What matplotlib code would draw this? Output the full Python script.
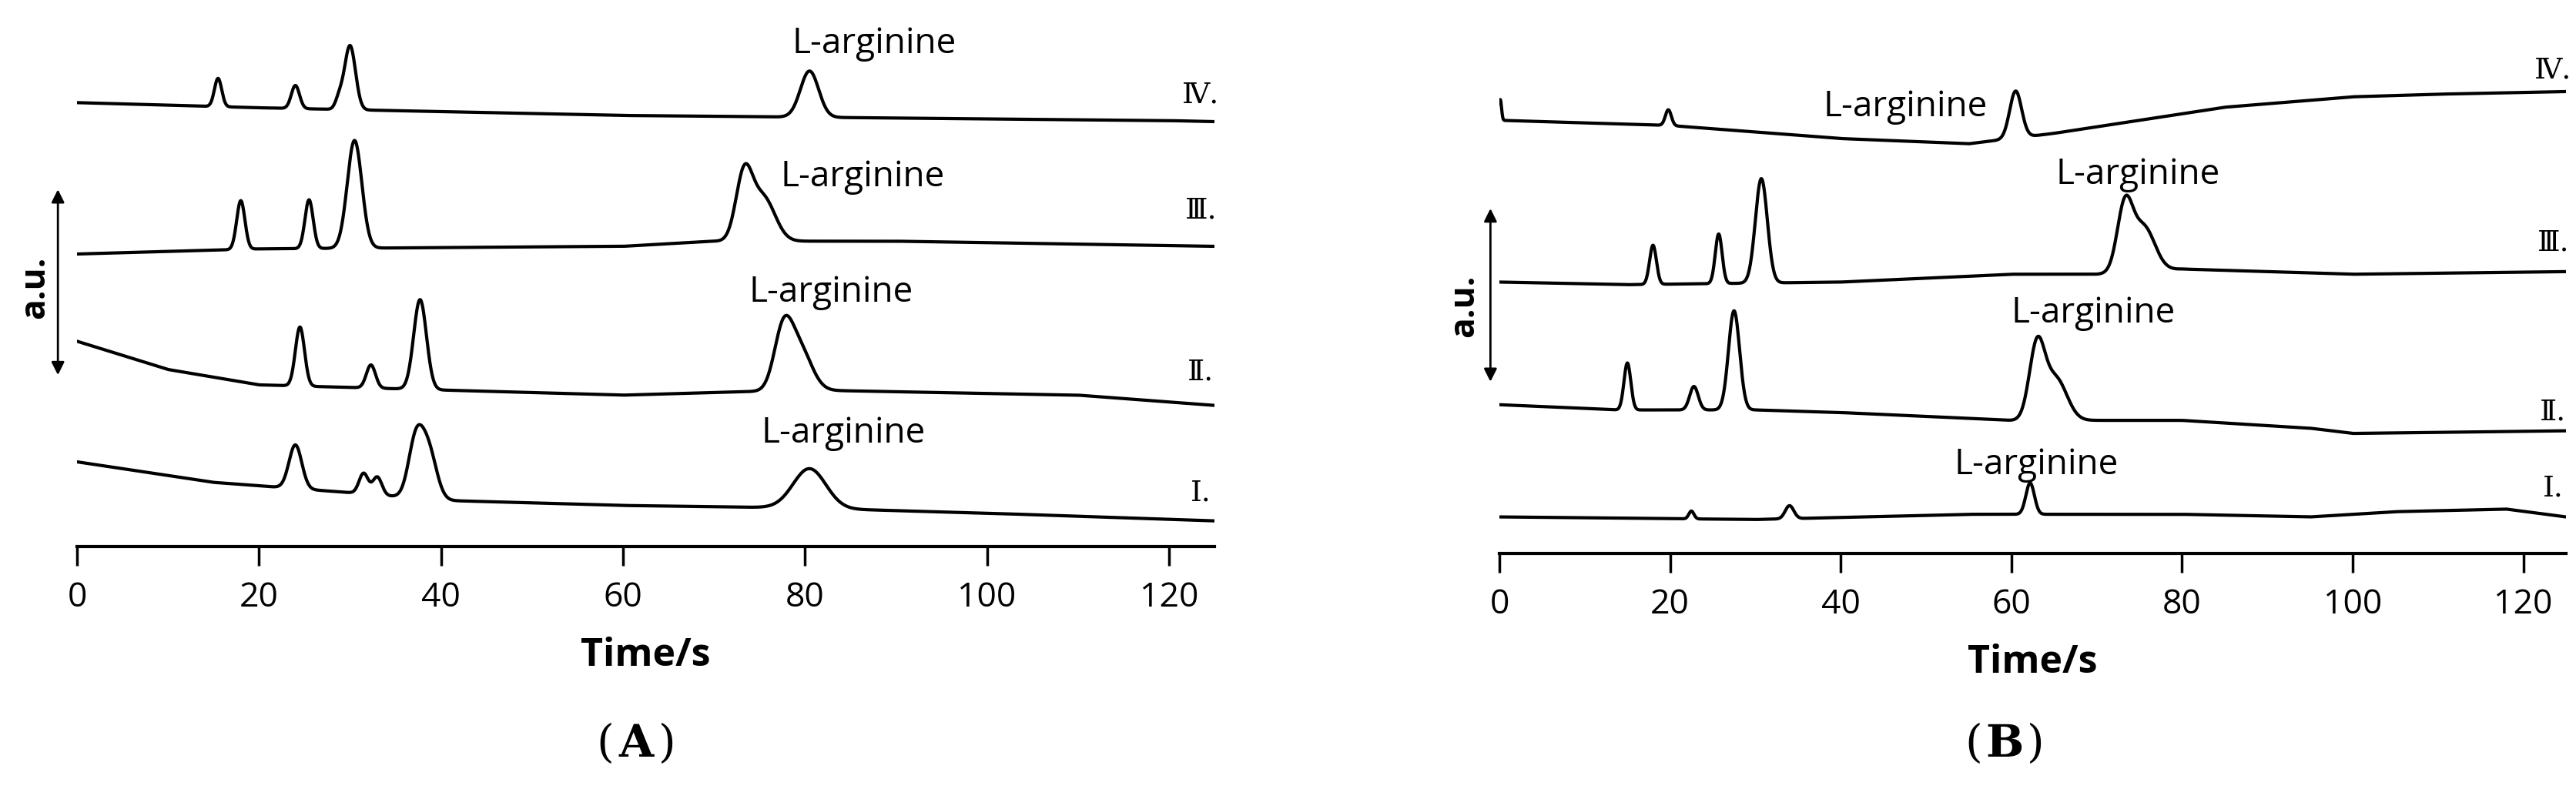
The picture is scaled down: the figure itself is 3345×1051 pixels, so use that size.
import numpy as np
import matplotlib
matplotlib.use("Agg")
import matplotlib.pyplot as plt

# ---------------- data (y in picture units, larger = lower) ----------------
labels_roman = ["Ⅰ.", "Ⅱ.", "Ⅲ.", "Ⅳ."]
xticks = [0, 20, 40, 60, 80, 100, 120]

# Panel A baselines (time, level)
A_base_t = [[0, 15, 30, 40, 60, 80, 100, 125],
            [0, 10, 20, 40, 60, 80, 110, 125],
            [0, 20, 60, 70, 90, 125],
            [0, 20, 60, 120, 125]]
A_base_y = [[900, 940, 960, 975, 985, 990, 1000, 1015],
            [665, 720, 750, 760, 770, 760, 770, 790],
            [495, 485, 480, 470, 470, 480],
            [200, 210, 225, 235, 237]]
# peaks: centre, height, width
A_pk_c = [[24, 31.5, 33.0, 37.2, 38.6, 80.5],
          [24.5, 32.3, 37.7, 77.6, 79.4],
          [18, 25.5, 30.5, 73.3, 75.4],
          [15.5, 24, 28.8, 30, 80.5]]
A_pk_h = [[85, 40, 35, 105, 95, 77],
          [115, 45, 175, 110, 80],
          [95, 95, 210, 125, 85],
          [55, 45, 20, 125, 90]]
A_pk_w = [[0.7, 0.5, 0.5, 0.8, 0.9, 1.8],
          [0.5, 0.5, 0.7, 1.0, 1.3],
          [0.45, 0.45, 0.8, 0.9, 1.3],
          [0.4, 0.45, 0.4, 0.6, 1.0]]
A_arg_x = [84.2, 82.9, 86.3, 87.6]
A_arg_y = [845, 570, 345, 85]
A_rom_y = [960, 725, 410, 185]

# Panel B
B_base_t = [[0, 30, 55, 80, 95, 105, 118, 125],
            [0, 14, 30, 40, 60, 80, 95, 100, 125],
            [0, 15, 40, 60, 70, 80, 100, 125],
            [0, 20, 40, 55, 65, 75, 85, 100, 110, 125]]
B_base_y = [[990, 995, 985, 985, 990, 980, 975, 990],
            [775, 785, 785, 790, 805, 805, 820, 830, 825],
            [540, 545, 540, 525, 525, 515, 525, 520],
            [230, 240, 265, 275, 255, 230, 205, 185, 180, 175]]
B_pk_c = [[22.5, 34, 62.2],
          [15, 22.8, 27.5, 63.0, 65.2],
          [18, 25.7, 30.7, 73.3, 75.5],
          [0.1, 19.8, 60.5]]
B_pk_h = [[15, 25, 60],
          [90, 45, 190, 140, 80],
          [75, 95, 200, 125, 85],
          [40, 30, 90]]
B_pk_w = [[0.3, 0.5, 0.5],
          [0.4, 0.5, 0.65, 0.9, 1.3],
          [0.4, 0.4, 0.7, 0.9, 1.3],
          [0.15, 0.35, 0.7]]
B_arg_x = [62.9, 69.6, 74.8, 47.6]
B_arg_y = [890, 600, 335, 205]
B_rom_y = [935, 790, 465, 135]

W, H = 3345, 1051
fig = plt.figure(figsize=(W / 100, H / 100), dpi=100)

def make_ax(x0, x1, ybot, ytop):
    return fig.add_axes([x0 / W, 1 - ybot / H, (x1 - x0) / W, (ybot - ytop) / H])

t = np.linspace(0, 125, 3000)

def draw(ax, bt, by, pc, ph, pw, ax_y, argx, argy, romy, arrow_x, au_x, arrow_y, au_y, top):
    ax.set_xlim(0, 125)
    ax.set_ylim(ax_y, top)
    for i in range(4):
        y = np.interp(t, bt[i], by[i])
        for c, h, w in zip(pc[i], ph[i], pw[i]):
            y = y - h * np.exp(-0.5 * ((t - c) / w) ** 2)
        ax.plot(t, y, color="black", lw=3)
        ax.text(argx[i], argy[i], "L-arginine", fontsize=33, family="Open Sans",
                ha="center", va="center")
        ax.text(123.5, romy[i], labels_roman[i], fontsize=27, family="DejaVu Serif",
                ha="center", va="center")
    for s in ["left", "right", "top"]:
        ax.spines[s].set_visible(False)
    ax.spines["bottom"].set_position(("data", ax_y))
    ax.spines["bottom"].set_linewidth(3)
    ax.set_yticks([])
    ax.set_xticks(xticks)
    ax.tick_params(axis="x", length=18, width=2.5, labelsize=32, pad=14)
    for lab in ax.get_xticklabels():
        lab.set_family("Open Sans")
    ax.annotate("", xy=(arrow_x, arrow_y[0]), xytext=(arrow_x, arrow_y[1]),
                arrowprops=dict(arrowstyle="<|-|>", color="black", lw=2, mutation_scale=25),
                annotation_clip=False)
    ax.text(au_x, au_y, "a.u.", rotation=90, fontsize=32, fontweight="bold",
            family="Open Sans", ha="center", va="center", clip_on=False)
    ax.set_xlabel("Time/s", fontsize=36, fontweight="bold", family="Open Sans", labelpad=20)

axA = make_ax(100, 1577, 710, 40)
draw(axA, A_base_t, A_base_y, A_pk_c, A_pk_h, A_pk_w, 1065, A_arg_x, A_arg_y, A_rom_y,
     -2.1, -4.6, (365, 735), 560, 60)

axB = make_ax(1947, 3332, 719, 41)
draw(axB, B_base_t, B_base_y, B_pk_c, B_pk_h, B_pk_w, 1060, B_arg_x, B_arg_y, B_rom_y,
     -1.05, -4.1, (395, 735), 585, 60)

for cx, p in [(826, "A"), (2603, "B")]:
    yy = 1 - 967 / H
    fig.text(cx / W - 0.0085, yy, "(", fontsize=42, family="DejaVu Serif", ha="right", va="center")
    fig.text(cx / W, yy, p, fontsize=42, family="DejaVu Serif", fontweight="bold",
             ha="center", va="center")
    fig.text(cx / W + 0.0085, yy, ")", fontsize=42, family="DejaVu Serif", ha="left", va="center")

fig.savefig("out.png", dpi=100)
